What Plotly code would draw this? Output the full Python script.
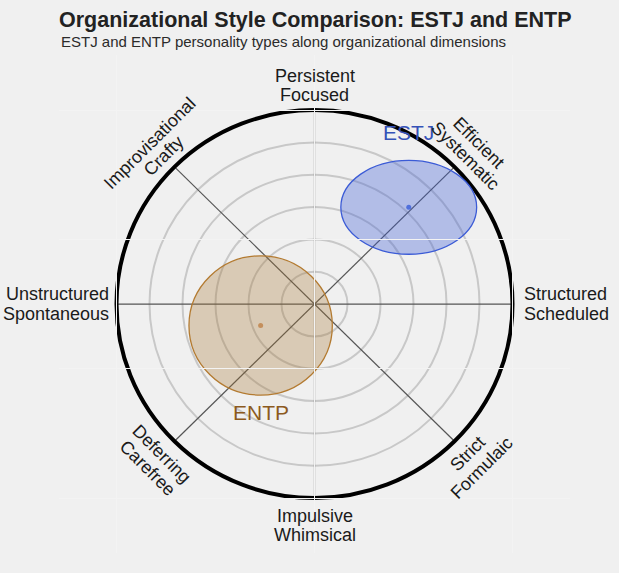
import math
import plotly.graph_objects as go

# ---------------- data ----------------
types = ["ESTJ", "ENTP"]
center_x = [0.476, -0.272]      # position along Unstructured(-) .. Structured(+)
center_y = [0.499, -0.110]      # position along Impulsive(-) .. Persistent(+)
spread_x = [0.343, 0.362]
spread_y = [0.242, 0.359]

axis_angles = [90, 45, 0, -45, -90, -135, 180, 135]
axis_line1 = ["Persistent", "Efficient", "Structured", "Strict",
              "Impulsive", "Deferring", "Unstructured", "Improvisational"]
axis_line2 = ["Focused", "Systematic", "Scheduled", "Formulaic",
              "Whimsical", "Carefree", "Spontaneous", "Crafty"]

ring_radii = [1/6, 2/6, 3/6, 4/6, 5/6]
outer_radius = 1.0

title_text = "Organizational Style Comparison: ESTJ and ENTP"
subtitle_text = "ESTJ and ENTP personality types along organizational dimensions"

# ---------------- styles ----------------
FONT = "Liberation Sans, Arial, Helvetica, sans-serif"
BG = "#f0f0f0"
edge_colors = ["#3b5bd6", "#b37a30"]
fill_colors = ["rgba(59,91,214,0.34)", "rgba(165,115,45,0.30)"]
dot_colors = ["#5070dc", "#c48f5c"]
label_colors = ["#3552b8", "#8c5a1e"]
label_shift = [27.5, -17.5]   # px from ellipse edge

W, H = 619, 573
ML, MR, MT, MB = 59, 49, 55, 20
XR = [-1.2904, 1.2904]
YR = [-1.283, 1.284]

fig = go.Figure()
shapes = []
annotations = []

# grey rings
for r in ring_radii:
    shapes.append(dict(type="circle", xref="x", yref="y", x0=-r, x1=r, y0=-r, y1=r,
                       line=dict(color="#c8c8c8", width=2), layer="below"))
# axis lines
for a in [0, 45, 90, 135]:
    t = math.radians(a)
    shapes.append(dict(type="line", xref="x", yref="y",
                       x0=-outer_radius * math.cos(t), y0=-outer_radius * math.sin(t),
                       x1=outer_radius * math.cos(t), y1=outer_radius * math.sin(t),
                       line=dict(color="#555555", width=1.2), layer="below"))
# outer circle
shapes.append(dict(type="circle", xref="x", yref="y", x0=-outer_radius, x1=outer_radius,
                   y0=-outer_radius, y1=outer_radius,
                   line=dict(color="#000000", width=4), layer="below"))
# type ellipses
for i, name in enumerate(types):
    shapes.append(dict(type="circle", xref="x", yref="y",
                       x0=center_x[i] - spread_x[i], x1=center_x[i] + spread_x[i],
                       y0=center_y[i] - spread_y[i], y1=center_y[i] + spread_y[i],
                       line=dict(color=edge_colors[i], width=1.3),
                       fillcolor=fill_colors[i], layer="below"))
    fig.add_trace(go.Scatter(x=[center_x[i]], y=[center_y[i]], mode="markers",
                             marker=dict(size=5, color=dot_colors[i]),
                             hoverinfo="skip", showlegend=False))
    if label_shift[i] > 0:
        ly = center_y[i] + spread_y[i]
    else:
        ly = center_y[i] - spread_y[i]
    annotations.append(dict(x=center_x[i], y=ly, xref="x", yref="y", text=name,
                            showarrow=False, xanchor="center", yanchor="middle",
                            yshift=label_shift[i],
                            font=dict(family=FONT, size=21, color=label_colors[i])))

# axis end labels
for ang, l1, l2 in zip(axis_angles, axis_line1, axis_line2):
    t = math.radians(ang)
    c, s = math.cos(t), math.sin(t)
    font = dict(family=FONT, size=18, color="#1a1a1a")
    if ang in (0, 180):
        xpos = 1.046 if ang == 0 else -1.028
        anchor = "left" if ang == 0 else "right"
        for txt, dy in ((l1, 10), (l2, -10)):
            annotations.append(dict(x=xpos, y=0, xref="x", yref="y", text=txt,
                                    showarrow=False, xanchor=anchor, yanchor="middle",
                                    yshift=dy, font=font))
        continue
    if s > 0:
        r1, r2 = 1.175, 1.077   # first line outside
    else:
        r1, r2 = 1.09, 1.192    # first line inside
    if abs(c) < 1e-9:
        angle = 0
    else:
        angle = 45 if c * s > 0 else -45
    for txt, r in ((l1, r1), (l2, r2)):
        annotations.append(dict(x=r * c, y=r * s, xref="x", yref="y", text=txt,
                                showarrow=False, xanchor="center", yanchor="middle",
                                textangle=angle, font=font))

# subtitle
annotations.append(dict(xref="paper", yref="paper", x=0, xanchor="left",
                        y=(H - MB - 42.0) / (H - MT - MB), yanchor="middle",
                        text=subtitle_text, showarrow=False,
                        font=dict(family=FONT, size=15, color="#2b2b2b")))

fig.update_layout(
    width=W, height=H,
    margin=dict(l=ML, r=MR, t=MT, b=MB),
    paper_bgcolor=BG, plot_bgcolor=BG,
    title=dict(text="<b>" + title_text + "</b>", xref="container", yref="container",
               x=ML / W, xanchor="left", y=1 - 19 / H, yanchor="middle",
               font=dict(family=FONT, size=21.5, color="#222222")),
    xaxis=dict(range=XR, showticklabels=False, zeroline=False, ticks="",
               tickvals=[-1, 0, 1], gridcolor="#f3f3f3", gridwidth=1, fixedrange=True),
    yaxis=dict(range=YR, showticklabels=False, zeroline=False, ticks="",
               tickvals=[-1, -1/3, 1/3, 1], gridcolor="#f3f3f3", gridwidth=1, fixedrange=True),
    shapes=shapes,
    annotations=annotations,
    showlegend=False,
)

fig.write_html("out.html", config={"displayModeBar": False},
               post_script="document.body.style.margin='0';document.body.style.background='#f0f0f0';")
